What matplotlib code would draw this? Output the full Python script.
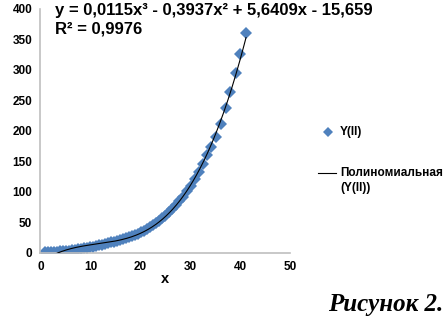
import numpy as np
import matplotlib
matplotlib.use("Agg")
import matplotlib.pyplot as plt
from matplotlib.lines import Line2D

plt.rcParams['font.family'] = ['Liberation Sans', 'DejaVu Sans']

# data
x_vals = [1.0, 1.6, 2.2, 2.8, 3.4, 4.0, 4.6, 5.2, 5.8, 6.4, 7.0, 7.6, 8.2, 8.8,
          9.4, 10.0, 10.6, 11.2, 11.8, 12.4, 13.0, 13.6, 14.2, 14.8, 15.4, 16.0,
          16.6, 17.2, 17.8, 18.4, 19.0, 19.6, 20.2, 20.8, 21.4, 22.0, 22.6, 23.2,
          23.8, 24.4, 25.0, 25.7, 26.4, 27.1, 27.8, 28.6, 29.4, 30.2, 31.0, 31.8,
          32.6, 33.4, 34.2, 35.2, 36.1, 37.2, 38.05, 39.2, 40.06, 41.2]
y_vals = [0.8, 1.0, 1.2, 1.5, 1.8, 2.1, 2.5, 3.0, 3.5, 4.1, 4.8, 5.5, 6.3, 7.1,
          8.0, 8.9, 9.9, 10.9, 12.0, 13.1, 14.3, 15.5, 16.8, 18.1, 19.5, 21.0,
          22.6, 24.2, 25.9, 27.7, 29.0, 31.0, 33.5, 36.0, 38.8, 42.0, 45.3, 48.9,
          52.6, 56.6, 60.8, 66.0, 71.8, 78.0, 84.5, 92.0, 100.5, 110.0, 121.0, 133.0,
          146.0, 160.0, 174.0, 190.0, 211.0, 237.0, 264.0, 294.0, 326.0, 361.0]

# trendline coefficients as printed on the chart
trend_coef = [0.0115, -0.3937, 5.6409, -15.659]
eq_text = "y = 0,0115x³ - 0,3937x² + 5,6409x - 15,659"
r2_text = "R² = 0,9976"

x_ticks = [0, 10, 20, 30, 40, 50]
y_ticks = [0, 50, 100, 150, 200, 250, 300, 350, 400]

blue = "#4F81BD"

fig = plt.figure(figsize=(4.47, 3.23), dpi=100)
ax = fig.add_axes([0.0906, 0.2176, 0.558, 0.7554])

ax.plot(x_vals, y_vals, linestyle="none", marker="D", markersize=6.3,
        color=blue, markeredgewidth=0, zorder=2)

xt = np.linspace(x_vals[0], x_vals[-1], 300)
ax.plot(xt, np.polyval(trend_coef, xt), color="black", lw=0.8, zorder=3)

ax.set_xlim(0, 50)
ax.set_ylim(0, 400)
ax.set_xticks(x_ticks)
ax.set_yticks(y_ticks)
ax.tick_params(length=0, labelsize=8.5, pad=6, colors="black")
for lab in ax.get_xticklabels() + ax.get_yticklabels():
    lab.set_fontweight("bold")
for s in ["top", "right"]:
    ax.spines[s].set_visible(False)
for s in ["left", "bottom"]:
    ax.spines[s].set_color("#bfbfbf")
    ax.spines[s].set_linewidth(1.2)

fig.text(165 / 447, 1 - 279 / 323, "x", fontsize=10.5, fontweight="bold",
         ha="center", va="center")

fig.text(55 / 447, 1 - 11 / 323, eq_text, fontsize=12, fontweight="bold",
         ha="left", va="center")
fig.text(55 / 447, 1 - 29 / 323, r2_text, fontsize=12, fontweight="bold",
         ha="left", va="center")

# legend drawn by hand to match position
fig.add_artist(Line2D([328 / 447], [1 - 132 / 323], marker="D", markersize=5.5,
                      color=blue, markeredgewidth=0, linestyle="none"))
fig.text(340 / 447, 1 - 132 / 323, "Y(II)", fontsize=8.5, fontweight="bold",
         ha="left", va="center")
fig.add_artist(Line2D([318 / 447, 336 / 447], [1 - 173 / 323, 1 - 173 / 323],
                      color="black", lw=0.8))
fig.text(340 / 447, 1 - 173 / 323, "Полиномиальная", fontsize=8.5,
         fontweight="bold", ha="left", va="center")
fig.text(340 / 447, 1 - 188 / 323, "(Y(II))", fontsize=8.5, fontweight="bold",
         ha="left", va="center")

fig.text(443 / 447, 1 - 305 / 323, "Рисунок 2.", fontsize=18,
         fontweight="bold", fontstyle="italic", family="Liberation Serif",
         ha="right", va="center")

fig.savefig("out.png", dpi=100)
